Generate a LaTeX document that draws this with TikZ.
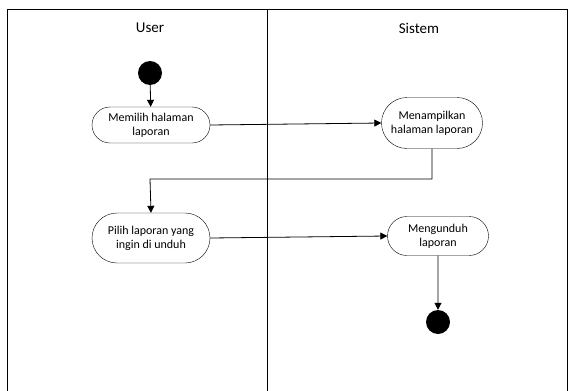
\documentclass[tikz,border=0pt]{standalone}
\usepackage{fontspec}
\setmainfont{Carlito}
\usetikzlibrary{arrows.meta, shapes.misc}

\begin{document}
\begin{tikzpicture}[x=1pt,y=-1pt,
    act/.style={draw,rounded rectangle,align=center,inner sep=0pt,
      font=\fontsize{12}{14}\selectfont},
    dot/.style={circle,fill=black,minimum size=24pt,inner sep=0pt},
    flow/.style={-{Triangle[length=7pt,width=7pt]},line width=0.8pt}]
  \useasboundingbox (0,0) rectangle (568,391);
  % lanes
  \draw[line width=0.8pt](7,391)--(7,9)--(567,9)--(567,391);
  \draw[line width=0.8pt](267,9)--(267,391);
  \node[font=\fontsize{15}{17}\selectfont] (user) at(150,28){User};
  \node[font=\fontsize{15}{17}\selectfont] (sistem) at(419,28){Sistem};
  % nodes
  \node[dot] (start) at(150,73){};
  \node[act,minimum width=118pt,minimum height=36pt] (pilihmenu) at(151,125){Memilih halaman\\laporan};
  \node[act,minimum width=101pt,minimum height=51pt] (tampil) at(432,123){Menampilkan\\halaman laporan};
  \node[act,minimum width=118pt,minimum height=50pt] (pilihlap) at(151,238){Pilih laporan yang\\ingin di unduh};
  \node[act,minimum width=101pt,minimum height=39pt] (unduh) at(438,236){Mengunduh\\laporan};
  \node[dot] (end) at(438,322){};
  % flows
  \draw[flow](start)--(pilihmenu);
  \draw[flow](pilihmenu.east)--(tampil.west);
  \draw[flow](tampil.south)|-(150,179)--(pilihlap.north);
  \draw[flow](pilihlap.east)--(unduh.west);
  \draw[flow](unduh)--(end);
\end{tikzpicture}
\end{document}
